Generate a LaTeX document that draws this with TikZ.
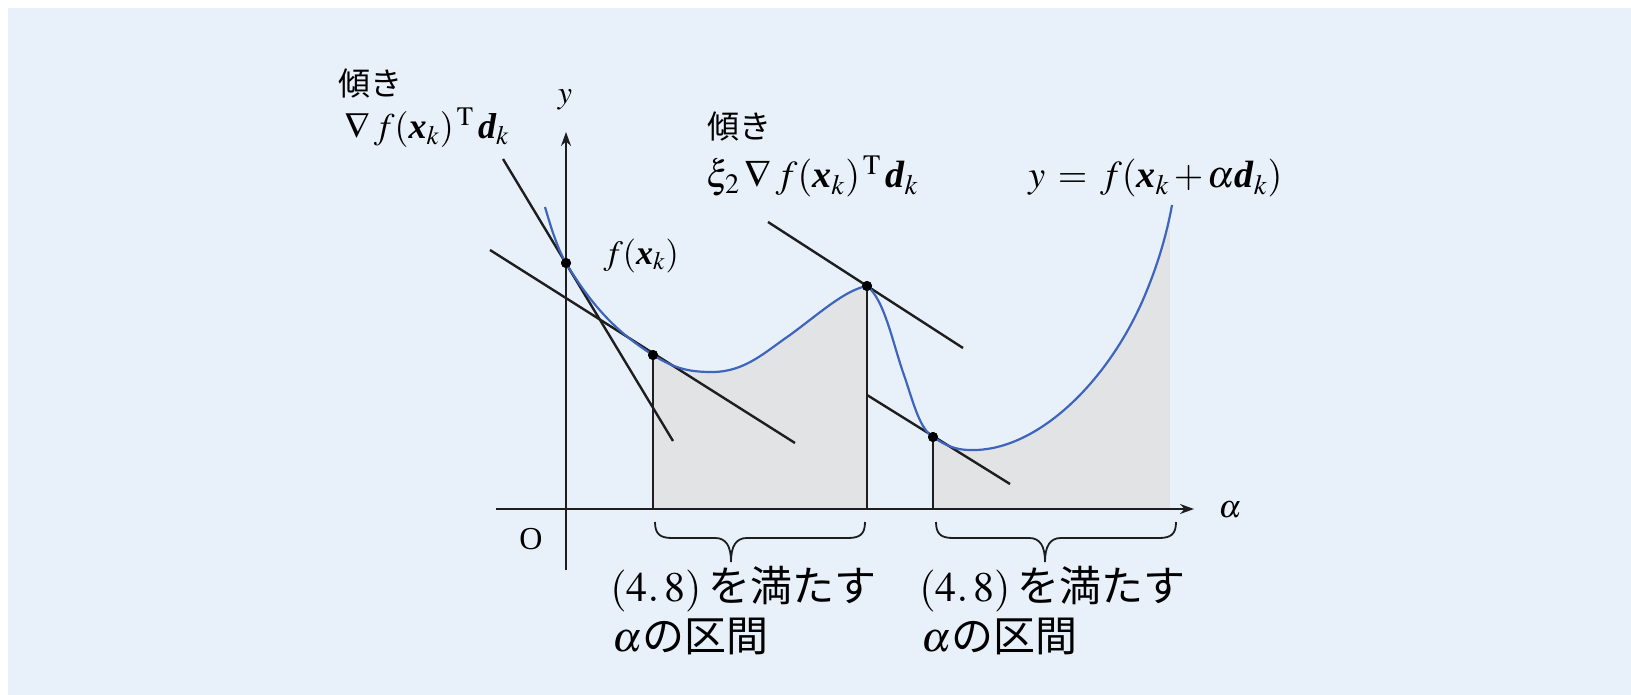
\documentclass[tikz,border=0pt]{standalone}
\usepackage{amsmath}
\usepackage{mathptmx}
\usepackage{fontspec}
\setmainfont{Liberation Serif}
\newfontfamily\jpfont{Noto Sans CJK JP}
\usetikzlibrary{arrows.meta}
\definecolor{panel}{RGB}{232,241,250}
\definecolor{shadegrey}{RGB}{226,227,228}
\definecolor{curveblue}{RGB}{62,100,190}
\definecolor{ink}{RGB}{30,30,30}
\newcommand{\bx}{\mbox{\bfseries\itshape x}}
\newcommand{\bd}{\mbox{\bfseries\itshape d}}
\begin{document}
\begin{tikzpicture}[x=0.5pt,y=-0.5pt,
  axis/.style={draw=ink,line width=0.9pt,-{Stealth[length=7pt,width=5pt]}},
  tanline/.style={draw=ink,line width=1.2pt},
  vline/.style={draw=ink,line width=0.7pt},
  fcurve/.style={draw=curveblue,line width=1.1pt},
  dot/.style={circle,fill=black,inner sep=0pt,minimum size=5pt},
  lbl/.style={inner sep=0pt,anchor=base west,font=\fontsize{16}{19}\selectfont},
  jlbl/.style={lbl,text depth=0pt},
  mlbl/.style={inner sep=0pt,anchor=base west,font=\fontsize{18}{21}\selectfont},
  blbl/.style={inner sep=0pt,anchor=base west,font=\fontsize{21}{25}\selectfont},
  bracestyle/.style={draw=ink,line width=0.9pt},
]
\useasboundingbox (0,0) rectangle (1631,695);
\fill[white] (0,0) rectangle (1631,695);
\fill[panel] (8,8) rectangle (1631,695);

% shaded intervals under the curve
\begin{scope}
\clip (545,207) .. controls (550,224) and (557,248) .. (566,263)
  .. controls (596,313) and (623,336) .. (653,355)
  .. controls (675,369) and (690,372) .. (712,372)
  .. controls (745,372) and (765,352) .. (790,335)
  .. controls (820,313) and (845,290) .. (867,286)
  .. controls (885,300) and (893,345) .. (905,378)
  .. controls (914,405) and (920,429) .. (933,437)
  .. controls (945,445) and (955,450) .. (970,450)
  .. controls (1035,452) and (1105,385) .. (1142,302)
  .. controls (1156,270) and (1166,238) .. (1172,205)
  -- (1172,509) -- (545,509) -- cycle;
\fill[shadegrey] (653,150) rectangle (867,509);
\fill[shadegrey] (933,150) rectangle (1170,509);
\end{scope}

% points on the curve
\node[dot] (D1) at (566,263) {};
\node[dot] (D2) at (653,355) {};
\node[dot] (D3) at (867,286) {};
\node[dot] (D4) at (933,437) {};

% axes
\coordinate (O) at (566,509);
\coordinate (xs) at (496,509);
\coordinate (xe) at (1194,509);
\coordinate (ys) at (566,570);
\coordinate (ye) at (566,132);
\path[axis] (xs) -- (xe);
\path[axis] (ys) -- (ye);

% vertical lines
\draw[vline] (D2.center) -- (D2.center |- O);
\draw[vline] (D3.center) -- (D3.center |- O);
\draw[vline] (D4.center) -- (D4.center |- O);

% tangent lines
\coordinate (L1a) at (503,159);
\coordinate (L1b) at (673,441);
\coordinate (L2a) at (490,250);
\coordinate (L2b) at (795,443);
\coordinate (L3a) at (768,222);
\coordinate (L3b) at (963,348);
\coordinate (L4a) at (867,395);
\coordinate (L4b) at (1010,484);
\draw[tanline] (L1a) -- (L1b);
\draw[tanline] (L2a) -- (L2b);
\draw[tanline] (L3a) -- (L3b);
\draw[tanline] (L4a) -- (L4b);

% the curve
\draw[fcurve] (545,207) .. controls (550,224) and (557,248) .. (566,263)
  .. controls (596,313) and (623,336) .. (653,355)
  .. controls (675,369) and (690,372) .. (712,372)
  .. controls (745,372) and (765,352) .. (790,335)
  .. controls (820,313) and (845,290) .. (867,286)
  .. controls (885,300) and (893,345) .. (905,378)
  .. controls (914,405) and (920,429) .. (933,437)
  .. controls (945,445) and (955,450) .. (970,450)
  .. controls (1035,452) and (1105,385) .. (1142,302)
  .. controls (1156,270) and (1166,238) .. (1172,205);

% dots on top
\fill[black] (D1) circle (2.5pt) (D2) circle (2.5pt) (D3) circle (2.5pt) (D4) circle (2.5pt);

% braces (ends at y=522, bar at y=538, tip at y=562)
\coordinate (B1a) at (655,522);
\coordinate (B1t) at (731,562);
\coordinate (B1b) at (865,522);
\coordinate (B2a) at (936,522);
\coordinate (B2t) at (1045,562);
\coordinate (B2b) at (1176,522);
\draw[bracestyle] (B1a) .. controls (655,534) and (660,538) .. (672,538)
  -- (715,538) .. controls (726,538) and (731,546) .. (B1t)
  .. controls (731,546) and (736,538) .. (747,538)
  -- (848,538) .. controls (860,538) and (865,534) .. (B1b);
\draw[bracestyle] (B2a) .. controls (936,534) and (941,538) .. (953,538)
  -- (1029,538) .. controls (1040,538) and (1045,546) .. (B2t)
  .. controls (1045,546) and (1050,538) .. (1061,538)
  -- (1159,538) .. controls (1171,538) and (1176,534) .. (B2b);

% labels
\node[jlbl] (t1) at (338,96) {\jpfont 傾き};
\node[mlbl] (t2) at (344,139) {$\nabla\,f(\bx_k)^{\,\mathrm{T}}\,\bd_k$};
\node[jlbl] (t3) at (707,139) {\jpfont 傾き};
\node[mlbl,font=\fontsize{19}{22}\selectfont] (t4) at (706,188) {$\xi_2\,\nabla\,f(\bx_k)^{\,\mathrm{T}}\,\bd_k$};
\node[mlbl,font=\fontsize{19}{22}\selectfont] (t5) at (1028,188) {$y\,=\,f(\bx_k\,{+}\,\alpha\bd_k)$};
\node[lbl,font=\fontsize{17}{20}\selectfont] (t6) at (603,264) {$f(\bx_k)$};
\node[lbl,anchor=center] (ylab) at (565,100) {$y$};
\node[lbl,anchor=center] (alab) at (1230,510) {$\alpha$};
\node[lbl,anchor=center] (olab) at (531,539) {O};
\node[blbl] (b1) at (610,601) {$(4.\,8)$\,{\jpfont を満たす}};
\node[blbl] (b2) at (612,651) {$\alpha${\jpfont の区間}};
\node[blbl] (b3) at (919,601) {$(4.\,8)$\,{\jpfont を満たす}};
\node[blbl] (b4) at (921,651) {$\alpha${\jpfont の区間}};
\end{tikzpicture}
\end{document}
